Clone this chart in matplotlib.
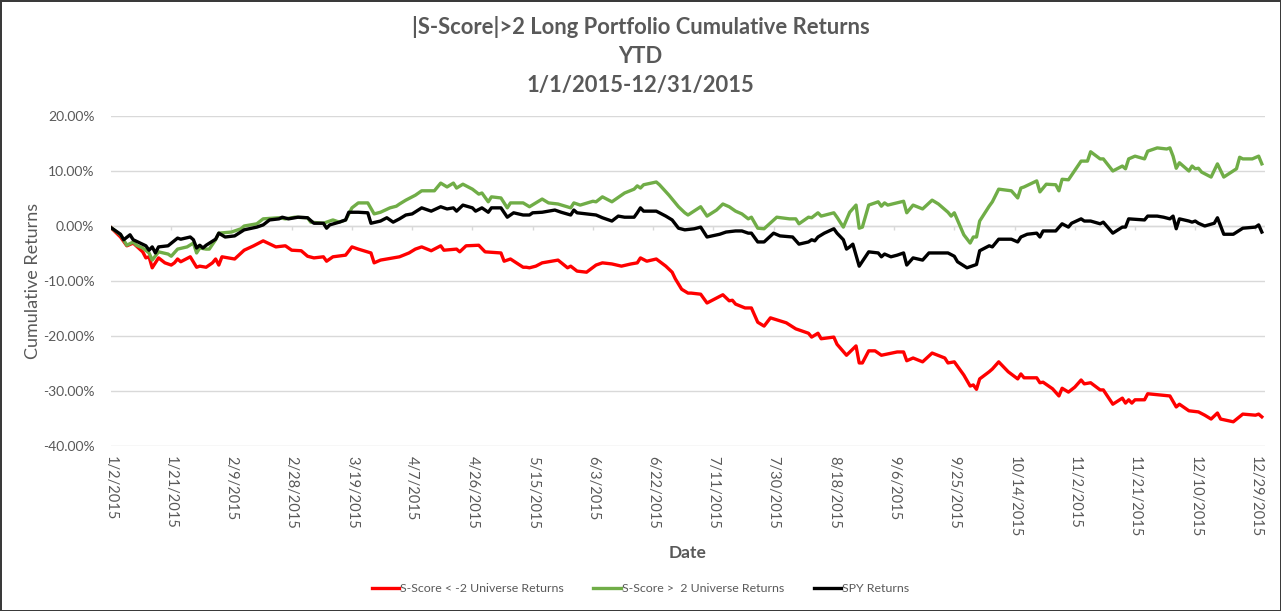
import matplotlib
matplotlib.use("Agg")
import matplotlib.pyplot as plt
import numpy as np
import pandas as pd

plt.rcParams['font.family'] = ['Lato', 'DejaVu Sans']

# days since 1/2/2015, cumulative return in %
red_days = [0, 3, 5, 7, 10, 11, 12, 13, 15, 17, 19, 20, 21, 22, 25, 27, 28, 30, 32, 33,
            34, 35, 39, 42, 45, 48, 52, 55, 57, 60, 62, 64, 67, 68, 70, 74, 76, 78, 82, 83,
            85, 89, 91, 94, 96, 98, 101, 104, 105, 109, 110, 112, 116, 118, 123, 124, 126, 130, 131, 132,
            134, 136, 141, 144, 145, 147, 150, 153, 155, 158, 161, 164, 166, 167, 169, 172, 175, 177, 178, 180,
            182, 183, 186, 188, 191, 193, 195, 196, 197, 200, 202, 204, 206, 208, 213, 216, 220, 221, 223, 224,
            228, 229, 232, 235, 236, 237, 239, 241, 243, 248, 250, 251, 253, 256, 259, 263, 264, 266, 269, 271,
            272, 273, 274, 277, 278, 280, 283, 286, 287, 288, 292, 293, 294, 297, 299, 300, 302, 304, 306, 307,
            309, 312, 313, 316, 319, 320, 321, 322, 323, 326, 327, 334, 336, 337, 340, 343, 345, 347, 349, 350,
            354, 357, 361, 362, 363]
red_vals = [-0.3, -2.0, -3.6, -3.1, -4.7, -5.8, -5.6, -7.6, -5.8, -6.7, -7.1, -6.7, -6.0, -6.5, -5.6, -7.5, -7.3, -7.5, -6.7, -6.0,
            -7.1, -5.6, -6.0, -4.4, -3.6, -2.7, -3.8, -3.6, -4.4, -4.5, -5.5, -5.8, -5.6, -6.4, -5.6, -5.3, -3.8, -4.2, -4.9, -6.7,
            -6.2, -5.8, -5.6, -4.9, -4.2, -3.8, -4.5, -3.6, -4.4, -4.2, -4.7, -3.6, -3.5, -4.7, -4.9, -6.4, -6.0, -7.5, -7.5, -7.6,
            -7.3, -6.7, -6.2, -7.6, -7.3, -8.2, -8.4, -7.1, -6.7, -6.9, -7.3, -6.9, -6.7, -5.8, -6.4, -6.0, -7.3, -8.4, -9.6, -11.5,
            -12.2, -12.2, -12.4, -14.0, -13.1, -12.5, -13.6, -13.5, -14.2, -14.9, -14.9, -17.5, -18.2, -16.7, -17.6, -18.7, -19.5, -20.2, -19.5, -20.5,
            -20.2, -21.5, -23.5, -21.8, -24.9, -24.9, -22.7, -22.7, -23.5, -22.9, -22.9, -24.5, -24.0, -24.7, -23.1, -24.0, -24.9, -24.7, -27.1, -29.1,
            -28.9, -29.7, -27.8, -26.5, -26.0, -24.7, -26.5, -27.8, -26.9, -27.6, -27.6, -28.5, -28.4, -29.6, -30.9, -29.5, -30.2, -29.3, -28.0, -28.7,
            -28.5, -29.8, -29.8, -32.4, -31.3, -32.2, -31.6, -32.2, -31.6, -31.6, -30.5, -30.9, -32.9, -32.4, -33.6, -33.8, -34.4, -35.1, -34.0, -35.1,
            -35.6, -34.2, -34.4, -34.2, -34.7]

green_days = [0, 3, 5, 7, 8, 10, 12, 13, 15, 18, 19, 21, 24, 26, 27, 28, 30, 31, 33, 34,
              38, 41, 42, 46, 48, 53, 55, 58, 62, 63, 67, 70, 72, 74, 76, 78, 81, 83, 85, 88,
              90, 91, 93, 96, 98, 102, 104, 106, 108, 109, 111, 114, 116, 117, 119, 120, 123, 125, 126, 130,
              132, 136, 138, 141, 145, 146, 148, 152, 153, 155, 158, 162, 165, 166, 167, 168, 172, 173, 176, 179,
              181, 182, 186, 188, 191, 193, 195, 197, 199, 201, 202, 204, 206, 210, 214, 216, 217, 220, 221, 223,
              224, 228, 229, 231, 233, 235, 236, 237, 239, 242, 243, 244, 245, 250, 251, 253, 256, 259, 261, 264,
              265, 266, 269, 271, 272, 273, 274, 277, 278, 280, 284, 286, 287, 288, 292, 293, 295, 298, 299, 300,
              302, 306, 308, 309, 312, 313, 316, 319, 320, 321, 323, 326, 327, 330, 333, 334, 335, 336, 337, 340,
              341, 342, 343, 344, 347, 349, 351, 355, 356, 357, 360, 362, 363]
green_vals = [-0.3, -1.6, -3.5, -2.9, -3.5, -4.0, -4.9, -6.2, -4.7, -5.1, -5.5, -4.2, -3.8, -3.1, -4.9, -4.0, -4.2, -4.2, -2.5, -1.3,
              -1.1, -0.5, 0.0, 0.4, 1.3, 1.5, 1.3, 1.6, 1.5, 0.7, 0.5, 1.1, 0.7, 1.1, 3.3, 4.2, 4.2, 2.2, 2.5, 3.3,
              3.6, 4.0, 4.7, 5.6, 6.4, 6.4, 7.8, 7.1, 7.8, 6.9, 7.6, 6.7, 5.8, 6.0, 4.4, 5.3, 5.1, 3.3, 4.2, 4.2,
              3.5, 4.9, 4.2, 4.0, 3.3, 4.2, 3.8, 4.5, 4.4, 5.3, 4.4, 6.0, 6.7, 7.3, 6.9, 7.5, 8.0, 7.5, 5.6, 3.5,
              2.4, 2.0, 3.5, 1.8, 2.9, 4.0, 3.5, 2.7, 2.2, 1.3, 1.6, -0.4, -0.5, 1.6, 1.3, 1.3, 0.4, 1.6, 1.5, 2.4,
              1.8, 2.4, 1.6, -0.2, 2.5, 3.8, -0.4, -0.2, 3.8, 4.4, 3.6, 4.2, 3.8, 4.5, 2.4, 3.8, 3.1, 4.7, 4.0, 2.5,
              1.8, 2.4, -1.6, -3.1, -2.0, -2.0, 0.9, 3.6, 4.4, 6.7, 6.4, 5.1, 6.9, 7.1, 8.2, 6.2, 7.6, 7.5, 6.4, 8.5,
              8.4, 11.8, 11.8, 13.5, 12.2, 12.2, 10.0, 10.9, 10.4, 12.2, 12.7, 12.2, 13.6, 14.2, 14.0, 14.2, 12.7, 10.5, 11.5, 10.0,
              10.9, 10.4, 10.5, 9.8, 8.9, 11.3, 8.9, 10.4, 12.5, 12.2, 12.2, 12.7, 11.3]

spy_days = [0, 3, 4, 6, 7, 11, 12, 13, 14, 15, 18, 21, 22, 25, 26, 27, 28, 29, 30, 33,
            34, 36, 39, 42, 46, 48, 50, 53, 54, 56, 59, 62, 64, 67, 68, 69, 72, 74, 75, 78,
            81, 82, 85, 87, 89, 91, 93, 95, 98, 101, 104, 106, 108, 109, 111, 114, 115, 117, 119, 120,
            123, 125, 127, 130, 132, 133, 136, 138, 140, 142, 145, 146, 147, 150, 153, 155, 158, 160, 162, 165,
            166, 167, 168, 172, 175, 177, 179, 181, 184, 186, 188, 192, 194, 197, 199, 201, 202, 204, 206, 209,
            211, 215, 217, 220, 221, 222, 223, 225, 228, 229, 231, 232, 233, 234, 236, 239, 242, 243, 244, 246,
            248, 250, 251, 253, 256, 258, 264, 266, 267, 270, 273, 274, 277, 278, 280, 284, 286, 287, 289, 292,
            293, 294, 298, 300, 302, 303, 306, 307, 309, 312, 313, 316, 319, 320, 321, 326, 327, 330, 332, 334,
            335, 336, 337, 340, 341, 342, 343, 345, 348, 349, 351, 354, 357, 361, 362, 363]
spy_vals = [-0.3, -1.5, -2.5, -1.6, -2.5, -3.6, -4.4, -3.8, -4.9, -3.8, -3.6, -2.2, -2.4, -2.0, -2.5, -4.0, -3.5, -4.0, -3.5, -2.4,
            -1.3, -2.0, -1.8, -0.7, -0.2, 0.2, 1.1, 1.3, 1.6, 1.3, 1.6, 1.5, 0.5, 0.5, -0.4, 0.2, 0.7, 1.1, 2.5, 2.5,
            2.4, 0.5, 0.9, 1.5, 0.7, 1.3, 2.0, 2.2, 3.3, 2.7, 3.5, 3.1, 3.3, 2.7, 3.8, 3.3, 2.7, 3.3, 2.5, 3.3,
            3.3, 1.6, 2.4, 2.0, 2.0, 2.4, 2.5, 2.7, 2.9, 2.5, 2.0, 2.9, 2.4, 2.2, 2.0, 1.5, 0.9, 1.8, 1.6, 1.6,
            2.4, 3.3, 2.7, 2.7, 1.8, 1.1, -0.4, -0.7, -0.5, -0.2, -2.0, -1.5, -1.1, -0.9, -0.9, -1.3, -1.3, -2.9, -2.9, -1.3,
            -1.8, -2.0, -3.3, -2.9, -2.5, -2.7, -2.0, -1.3, -0.5, -1.3, -2.5, -4.2, -3.8, -3.3, -7.3, -4.7, -4.9, -5.6, -5.1, -5.6,
            -5.3, -4.9, -7.1, -5.8, -6.2, -4.9, -4.9, -5.5, -6.5, -7.6, -7.0, -4.5, -3.6, -3.8, -2.4, -2.4, -2.9, -2.0, -1.5, -1.3,
            -2.0, -0.9, -0.9, 0.4, -0.2, 0.5, 1.3, 0.9, 0.9, 0.4, 0.7, -1.3, -0.2, -0.2, 1.3, 1.1, 1.8, 1.8, 1.6, 1.3,
            1.8, -0.5, 1.3, 0.9, 0.7, 0.9, 0.5, 0.0, 0.5, 1.5, -1.5, -1.5, -0.4, -0.2, 0.2, -1.1]

labels = ["S-Score < -2 Universe Returns", "S-Score >  2 Universe Returns", "SPY Returns"]
colors = ["#FF0000", "#70AD47", "#000000"]
y_ticks = [-40, -30, -20, -10, 0, 10, 20]

start = pd.Timestamp("2015-01-02")
end = pd.Timestamp("2015-12-31")
txt = "#595959"


def to_dates(days):
    return start + pd.to_timedelta(days, unit="D")


fig = plt.figure(figsize=(12.81, 6.11), dpi=100)
fig.patch.set_edgecolor("#3a3a3a")
fig.patch.set_linewidth(2)
ax = fig.add_axes([111 / 1281, 1 - 446 / 611, (1265 - 111) / 1281, (446 - 116) / 611])

series = [(red_days, red_vals), (green_days, green_vals), (spy_days, spy_vals)]
for (d, v), lab, c in zip(series, labels, colors):
    ax.plot(to_dates(d), np.array(v) / 100, color=c, lw=2.4, label=lab,
            solid_joinstyle="round", zorder=3)

ax.set_ylim(-0.40, 0.20)
ax.set_yticks([t / 100 for t in y_ticks])
ax.set_yticklabels([f"{t:.2f}%" for t in y_ticks])
ax.set_xlim(start, end + pd.Timedelta(days=1))
xt = pd.date_range(start, end, freq="19D")
ax.set_xticks(xt)
ax.set_xticklabels([f"{t.month}/{t.day}/{t.year}" for t in xt], rotation=-90)

ax.grid(axis="y", color="#D9D9D9", lw=1)
ax.set_axisbelow(True)
for s in ax.spines.values():
    s.set_visible(False)
ax.tick_params(axis="both", length=0, colors=txt, labelsize=10)
ax.tick_params(axis="x", labelsize=10.5, pad=7)
ax.tick_params(axis="y", pad=12)
# axis line at zero with small tick marks
ax.axhline(0, color="#D9D9D9", lw=1, zorder=1)
ax.vlines(xt, -0.008, 0, color="#D9D9D9", lw=1, zorder=1)

ax.set_ylabel("Cumulative Returns", color=txt, fontsize=13, labelpad=1)
ax.set_xlabel("Date", color=txt, fontsize=12.5, fontweight="bold", labelpad=6)

fig.text(0.5, 1 - 16 / 611, "|S-Score|>2 Long Portfolio Cumulative Returns\nYTD\n1/1/2015-12/31/2015",
         ha="center", va="top", fontsize=15.8, fontweight="bold", color=txt, linespacing=1.46)

leg = fig.legend(loc="center", bbox_to_anchor=(0.5, 1 - 589 / 611), ncol=3, frameon=False,
                 fontsize=8.9, handlelength=2.2, columnspacing=2.4, handletextpad=0.1)
for t in leg.get_texts():
    t.set_color(txt)

fig.savefig("out.png", dpi=100, edgecolor=fig.get_edgecolor())
